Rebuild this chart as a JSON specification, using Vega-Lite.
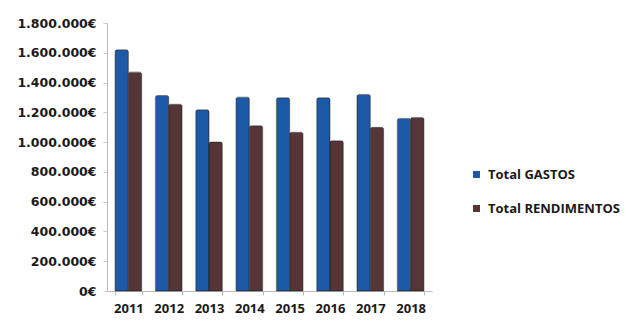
{
  "$schema": "https://vega.github.io/schema/vega-lite/v6.json",
  "autosize": "none",
  "width": 325,
  "height": 268,
  "padding": {"left": 107, "top": 23, "right": 201, "bottom": 34},
  "background": "#ffffff",
  "config": {
    "locale": {"number": {"decimal": ",", "thousands": ".", "grouping": [3], "currency": ["", "€"]}},
    "view": {"stroke": null},
    "font": "Open Sans"
  },
  "data": {
    "values": [
      {"ano": "2011", "serie": "Total GASTOS", "valor": 1620000},
      {"ano": "2011", "serie": "Total RENDIMENTOS", "valor": 1470000},
      {"ano": "2012", "serie": "Total GASTOS", "valor": 1313000},
      {"ano": "2012", "serie": "Total RENDIMENTOS", "valor": 1254000},
      {"ano": "2013", "serie": "Total GASTOS", "valor": 1217000},
      {"ano": "2013", "serie": "Total RENDIMENTOS", "valor": 1000000},
      {"ano": "2014", "serie": "Total GASTOS", "valor": 1302000},
      {"ano": "2014", "serie": "Total RENDIMENTOS", "valor": 1110000},
      {"ano": "2015", "serie": "Total GASTOS", "valor": 1298000},
      {"ano": "2015", "serie": "Total RENDIMENTOS", "valor": 1066000},
      {"ano": "2016", "serie": "Total GASTOS", "valor": 1298000},
      {"ano": "2016", "serie": "Total RENDIMENTOS", "valor": 1009000},
      {"ano": "2017", "serie": "Total GASTOS", "valor": 1320000},
      {"ano": "2017", "serie": "Total RENDIMENTOS", "valor": 1099000},
      {"ano": "2018", "serie": "Total GASTOS", "valor": 1159000},
      {"ano": "2018", "serie": "Total RENDIMENTOS", "valor": 1166000}
    ]
  },
  "mark": {"type": "bar", "stroke": "#222222", "strokeWidth": 0.5, "cornerRadiusTopLeft": 2, "cornerRadiusTopRight": 2},
  "encoding": {
    "x": {
      "field": "ano", "type": "nominal",
      "scale": {"paddingInner": 0.34, "paddingOuter": 0.2},
      "axis": {
        "title": null, "labelAngle": 0, "labelFontWeight": "bold", "labelFontSize": 13,
        "labelColor": "#1a1a1a", "domainColor": "#bbbbbb", "tickColor": "#bbbbbb",
        "tickSize": 4, "labelPadding": 7, "tickBand": "extent"
      }
    },
    "xOffset": {"field": "serie", "type": "nominal"},
    "y": {
      "field": "valor", "type": "quantitative",
      "scale": {"domain": [0, 1800000]},
      "axis": {
        "title": null, "values": [0, 200000, 400000, 600000, 800000, 1000000, 1200000, 1400000, 1600000, 1800000],
        "format": "$,.0f", "grid": false, "labelFont": "DejaVu Sans", "labelFontWeight": "bold", "labelFontSize": 12.5,
        "labelColor": "#1a1a1a", "domainColor": "#bbbbbb", "tickColor": "#cccccc",
        "tickSize": 4, "labelPadding": 7
      }
    },
    "color": {
      "field": "serie", "type": "nominal",
      "scale": {"domain": ["Total GASTOS", "Total RENDIMENTOS"], "range": ["#1c5aa8", "#553536"]},
      "legend": {
        "title": null, "orient": "none", "legendX": 363, "legendY": 145,
        "symbolType": "square", "symbolSize": 49, "symbolStrokeWidth": 0,
        "labelFontWeight": "bold", "labelFontSize": 13, "labelColor": "#1a1a1a", "labelLimit": 200,
        "rowPadding": 20, "labelOffset": 5
      }
    }
  }
}
